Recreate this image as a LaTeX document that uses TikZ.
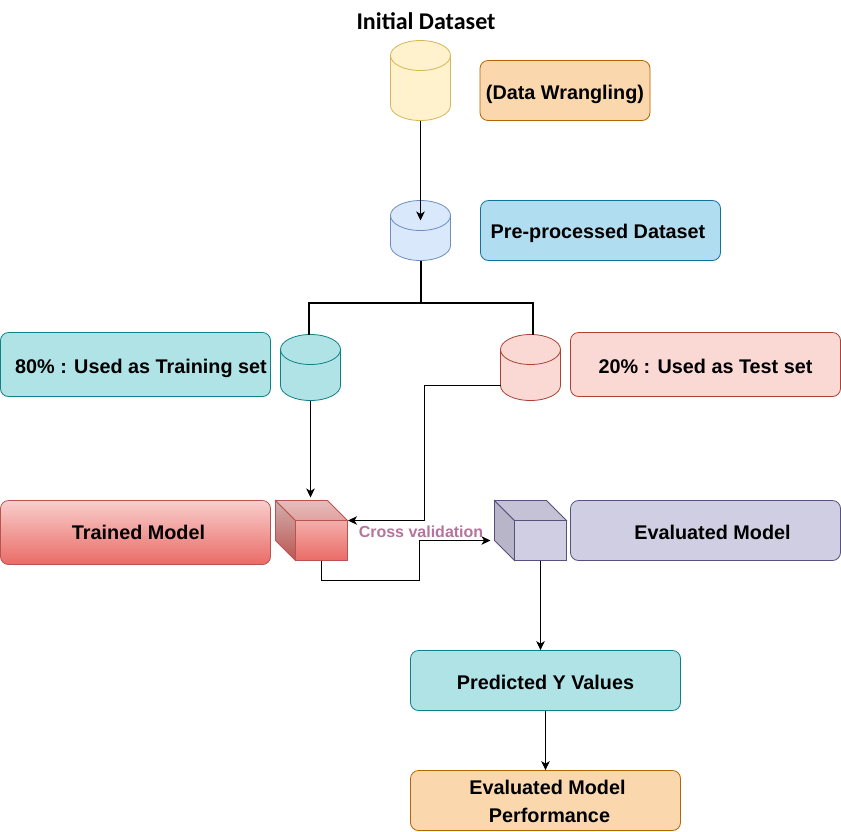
\documentclass[tikz,border=0pt]{standalone}
\usepackage{fontspec}
\setmainfont{Liberation Sans}
\newfontfamily\titlefont{Carlito}
\usetikzlibrary{arrows.meta,shadings}
\definecolor{yelF}{HTML}{FFF2CC}\definecolor{yelD}{HTML}{D6B656}
\definecolor{bluF}{HTML}{DAE8FC}\definecolor{bluD}{HTML}{6C8EBF}
\definecolor{teaF}{HTML}{B0E3E6}\definecolor{teaD}{HTML}{0E8088}
\definecolor{redF}{HTML}{FAD9D5}\definecolor{redD}{HTML}{AE4132}
\definecolor{oraF}{HTML}{FAD7AC}\definecolor{oraD}{HTML}{B46504}
\definecolor{skyF}{HTML}{B1DDF0}\definecolor{skyD}{HTML}{10739E}
\definecolor{purF}{HTML}{D0CEE2}\definecolor{purD}{HTML}{56517E}
\definecolor{gr1}{HTML}{F8CECC}\definecolor{gr2}{HTML}{EA6B66}\definecolor{grD}{HTML}{B85450}
\definecolor{cvtext}{HTML}{B5739D}
% text placed with its baseline #1 pt below the node centre
\newcommand{\bl}[2]{\makebox[0pt]{\raisebox{-#1pt}[0pt][0pt]{#2}}}
% cylinder: name, centre x, top y, bottom y, fill, draw
\newcommand{\drum}[6]{%
  \path[fill=#5,draw=#6,line width=0.8pt]
    (#2-30,#3+15) .. controls (#2-30,#3+6.7) and (#2-16.6,#3) .. (#2,#3)
    .. controls (#2+16.6,#3) and (#2+30,#3+6.7) .. (#2+30,#3+15)
    -- (#2+30,#4-15) .. controls (#2+30,#4-6.7) and (#2+16.6,#4) .. (#2,#4)
    .. controls (#2-16.6,#4) and (#2-30,#4-6.7) .. (#2-30,#4-15) -- cycle;
  \path[draw=#6,line width=0.8pt]
    (#2-30,#3+15) .. controls (#2-30,#3+23.3) and (#2-16.6,#3+30) .. (#2,#3+30)
    .. controls (#2+16.6,#3+30) and (#2+30,#3+23.3) .. (#2+30,#3+15);
  \node[inner sep=0pt,minimum width=60pt,minimum height=#4pt-#3pt] (#1) at (#2,{(#3+#4)/2}) {};
}
\tikzset{
  x=1pt,y=-1pt,
  box/.style={rectangle,rounded corners=8pt,line width=0.8pt,inner sep=0pt,
    font=\fontsize{19.8}{24}\selectfont\bfseries,text=black},
  link/.style={line width=1pt,draw=black,-{Stealth[length=9pt,width=8.5pt,inset=2.5pt]}},
  split/.style={line width=2pt,draw=black},
  facefront/.style={rectangle,line width=0.8pt,inner sep=0pt,minimum width=52pt,minimum height=40pt},
}
\begin{document}
\begin{tikzpicture}
\useasboundingbox (0,0) rectangle (841,831);
% titles and boxes
\node[font=\titlefont\fontsize{24}{28}\selectfont\bfseries,inner sep=0pt] (title) at (426,21) {\bl{8}{Initial Dataset}};
\node[box,fill=oraF,draw=oraD,minimum width=170pt,minimum height=60pt] (wrang) at (565,90.5) {\bl{8.5}{(Data Wrangling)}};
\node[box,fill=skyF,draw=skyD,minimum width=240pt,minimum height=60pt] (pre) at (600.5,230.5) {\hspace*{-5pt}\bl{8}{Pre-processed Dataset}};
\node[box,fill=teaF,draw=teaD,minimum width=270pt,minimum height=64pt] (train) at (135.5,364.5) {\hspace*{11pt}\bl{8.5}{80\% : Used as Training set}};
\node[box,fill=redF,draw=redD,minimum width=270pt,minimum height=64pt] (test) at (705.5,364.5) {\bl{8.5}{20\% : Used as Test set}};
\node[box,top color=gr1,bottom color=gr2,draw=grD,minimum width=270pt,minimum height=64pt] (trained) at (135.5,532.5) {\hspace*{6pt}\bl{6.5}{Trained Model}};
\node[box,fill=purF,draw=purD,minimum width=270pt,minimum height=60pt] (evalm) at (705.5,530.5) {\hspace*{14pt}\bl{8.5}{Evaluated Model}};
\node[box,fill=teaF,draw=teaD,minimum width=270pt,minimum height=60pt] (pred) at (545.5,680.5) {\bl{8.5}{Predicted Y Values}};
\node[box,fill=oraF,draw=oraD,minimum width=270pt,minimum height=60pt] (perf) at (545.5,800.5) {\hspace*{6pt}\bl{-6.5}{Evaluated Model}\hspace*{2pt}\bl{21.5}{Performance}};
% cylinders
\drum{c1}{420.5}{40.5}{120.5}{yelF}{yelD}
\drum{c2}{420.5}{200.5}{260.5}{bluF}{bluD}
\drum{c3}{310.5}{334.5}{400.5}{teaF}{teaD}
\drum{c4}{530.5}{334.5}{400.5}{redF}{redD}
% cubes
\node[facefront,top color=gr1!67!gr2,bottom color=gr2,draw=grD] (cubeA) at (321.5,540.5) {};
\path[draw=grD,line width=0.8pt,top color=gr1!85!black,bottom color=gr2!80!black] (275.5,500.5) -- (295.5,520.5) -- (295.5,560.5) -- (275.5,540.5) -- cycle;
\path[draw=grD,line width=0.8pt,top color=gr1!92!black,bottom color=gr1!70!gr2!92!black] (275.5,500.5) -- (327.5,500.5) -- (347.5,520.5) -- (295.5,520.5) -- cycle;
\node[facefront,fill=purF,draw=purD] (cubeB) at (540.5,540.5) {};
\path[fill=purF!88!black,draw=purD,line width=0.8pt] (494.5,500.5) -- (514.5,520.5) -- (514.5,560.5) -- (494.5,540.5) -- cycle;
\path[fill=purF!94!black,draw=purD,line width=0.8pt] (494.5,500.5) -- (546.5,500.5) -- (566.5,520.5) -- (514.5,520.5) -- cycle;
% named connector ends
\coordinate (j1) at (420.5,302.5);
\coordinate (t3) at (308.5,334.5);
\coordinate (t4) at (532.5,334.5);
\coordinate (redout) at (500.5,385.5);
\coordinate (bend) at (424.5,520.5);
\coordinate (trainin) at (348,520.5);
\coordinate (c1in) at (420.5,220.5);
\coordinate (aout) at (321.5,560.5);
\coordinate (a1) at (321.5,580.5);
\coordinate (a2) at (419,580.5);
\coordinate (a3) at (419,540.5);
\coordinate (bin) at (490.5,540.5);
\coordinate (cubeIn) at (310.5,497.5);
% connectors
\draw[link] (c1.south) -- (c1in);
\draw[split] (c2.south) -- (j1);
\draw[split] (t3) |- (j1) -| (t4);
\draw[link] (c3.south) -- (cubeIn);
\draw[link] (redout) -| (bend) -- (trainin);
\draw[link] (aout) -- (a1) -- (a2) -- (a3) -- (bin);
\draw[link] (cubeB.south) -- (pred.north -| cubeB.south);
\draw[link] (pred.south) -- (perf.north);
% label
\node[font=\fontsize{16}{18}\selectfont\bfseries,text=cvtext,inner sep=0pt] (cv) at (421,531) {\bl{6}{Cross validation}};
\end{tikzpicture}
\end{document}
